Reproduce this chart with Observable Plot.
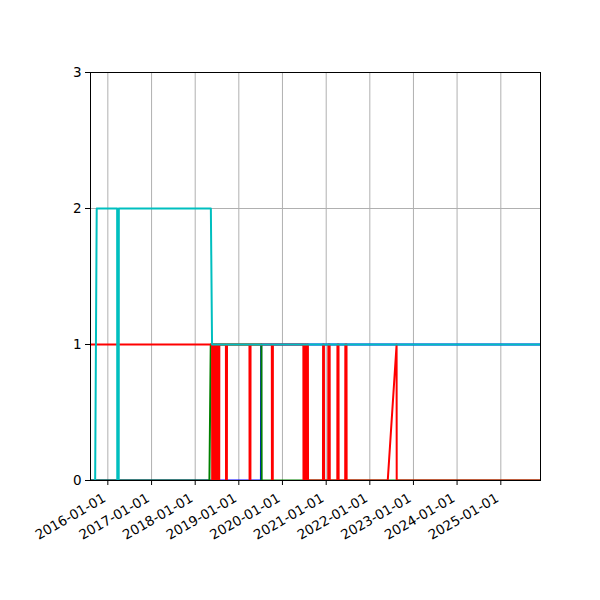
<!DOCTYPE html>
<html><head><meta charset="utf-8">
<script src="https://cdn.jsdelivr.net/npm/d3@7"></script>
<script src="https://cdn.jsdelivr.net/npm/@observablehq/plot@0.6"></script>
<style>body{margin:0;background:#fff}</style>
</head><body><div id="chart"></div>
<script>
const xStart = "2015-08-09", xEnd = "2025-11-29";
const yTicks = [0, 1, 2, 3];
const xTickLabels = ["2016-01-01","2017-01-01","2018-01-01","2019-01-01","2020-01-01","2021-01-01","2022-01-01","2023-01-01","2024-01-01","2025-01-01"];
const seriesNames = ["blue", "green", "red", "cyan"];
const seriesColors = ["#0000ff", "#008000", "#ff0000", "#00bfbf"];

const blueDates = ["2015-08-09","2019-07-05","2019-07-07","2025-11-29"];
const blueValues = [0, 0, 1, 1];

const greenDates = ["2015-08-09","2018-04-30","2018-05-11","2019-07-09","2019-07-11","2025-11-29"];
const greenValues = [0, 0, 1, 1, 0, 0];

const redDates = ["2015-08-09","2018-05-22","2018-05-23","2018-06-01","2018-06-02","2018-06-11","2018-06-12","2018-06-21","2018-06-22","2018-07-01","2018-07-02","2018-07-10","2018-07-11","2018-07-14","2018-07-15","2018-07-21","2018-07-22",
  "2018-09-15","2018-09-16","2018-09-23","2018-09-24",
  "2019-03-31","2019-04-01","2019-04-08","2019-04-09",
  "2019-10-04","2019-10-05","2019-10-12","2019-10-13",
  "2020-06-24","2020-06-25","2020-07-05","2020-07-06","2020-07-16","2020-07-17","2020-07-25","2020-07-26","2020-08-01","2020-08-02",
  "2020-12-05","2020-12-06","2020-12-13","2020-12-14",
  "2021-01-18","2021-01-19","2021-01-30","2021-01-31",
  "2021-04-04","2021-04-05","2021-04-14","2021-04-15",
  "2021-06-09","2021-06-10","2021-06-20","2021-06-21",
  "2022-05-31","2022-08-13","2022-08-14","2025-11-29"];
const redValues = [1,1,0,0,1,1,0,0,1,1,0,0,1,1,0,0,1,
  1,0,0,1,
  1,0,0,1,
  1,0,0,1,
  1,0,0,1,1,0,0,1,1,0,
  0,1,1,0,
  0,1,1,0,
  0,1,1,0,
  0,1,1,0,
  0,1,0,0];

const cyanDates = ["2015-09-17","2015-09-30","2016-03-19","2016-03-20","2016-04-01","2016-04-02","2018-05-12","2018-05-22","2025-11-29"];
const cyanValues = [0, 2, 2, 0, 0, 2, 2, 1, 1];

const seriesDates = [blueDates, greenDates, redDates, cyanDates];
const seriesValues = [blueValues, greenValues, redValues, cyanValues];

const rows = seriesNames.map((name, k) =>
  seriesDates[k].map((d, i) => ({series: name, date: new Date(d), value: seriesValues[k][i]})));
const xTickDates = xTickLabels.map(s => new Date(s));

const font = "DejaVu Sans";
const fs = 13.5;
const chart = Plot.plot({
  width: 600,
  height: 600,
  marginLeft: 90,
  marginRight: 60,
  marginTop: 72,
  marginBottom: 120,
  style: {fontFamily: font, fontSize: fs + "px", color: "black", background: "white"},
  x: {type: "utc", domain: [new Date(xStart), new Date(xEnd)]},
  y: {domain: [0, 3]},
  marks: [
    Plot.gridX(xTickDates, {stroke: "#b0b0b0", strokeOpacity: 1, strokeWidth: 1}),
    Plot.gridY(yTicks, {stroke: "#b0b0b0", strokeOpacity: 1, strokeWidth: 1}),
    ...rows.map((r, k) => Plot.line(r, {x: "date", y: "value", stroke: seriesColors[k], strokeWidth: 2, clip: true})),
    Plot.frame({stroke: "black", strokeWidth: 1}),
    Plot.axisY({ticks: yTicks, tickSize: 5, tickPadding: 4, tickFormat: d => String(d), label: null, fontSize: fs}),
    Plot.axisX({ticks: xTickDates, tickSize: 5, tickFormat: () => "", label: null}),
    Plot.text(xTickDates, {x: d => d, text: (d, i) => xTickLabels[i], frameAnchor: "bottom", rotate: -30, textAnchor: "end", lineAnchor: "top", dy: 12, dx: -6, fontSize: fs, fill: "black"})
  ]
});
document.getElementById("chart").appendChild(chart);
</script>
</body></html>
